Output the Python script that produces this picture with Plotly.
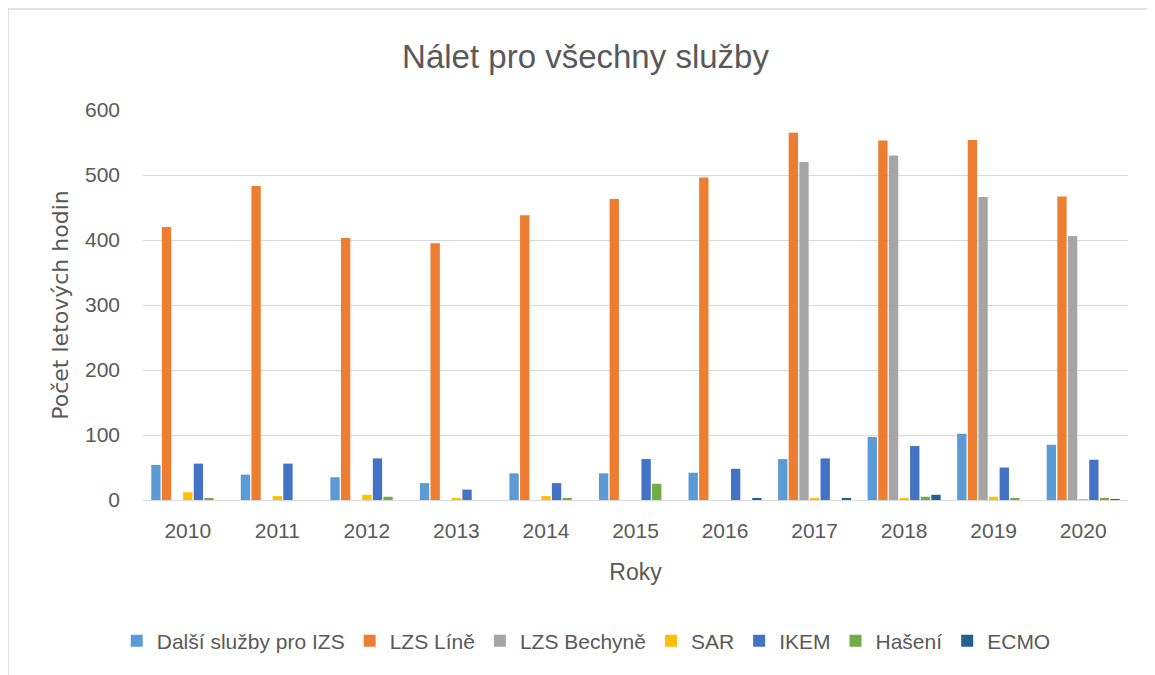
import plotly.graph_objects as go

years = ["2010", "2011", "2012", "2013", "2014", "2015", "2016", "2017", "2018", "2019", "2020"]
dalsi = [54, 39, 35, 26, 41, 41, 42, 63, 97, 102, 85]
lzs_line = [420, 483, 403, 395, 438, 463, 496, 565, 553, 554, 467]
lzs_bechyne = [0, 0, 0, 0, 0, 0, 0, 520, 530, 466, 406]
sar = [12, 6, 8, 3, 6, 0, 0, 2, 2, 5, 1]
ikem = [56, 56, 64, 16, 26, 63, 48, 64, 83, 50, 62]
haseni = [3, 0, 5, 0, 2, 25, 0, 0, 5, 3, 3]
ecmo = [0, 0, 0, 0, 0, 0, 2, 2, 8, 0, 1]

series = [
    ("Další služby pro IZS", dalsi, "#5B9BD5"),
    ("LZS Líně", lzs_line, "#ED7D31"),
    ("LZS Bechyně", lzs_bechyne, "#A5A5A5"),
    ("SAR", sar, "#FFC000"),
    ("IKEM", ikem, "#4472C4"),
    ("Hašení", haseni, "#70AD47"),
    ("ECMO", ecmo, "#255E91"),
]

font_fam = "Liberation Sans, Arial"
gray = "#595959"

fig = go.Figure()
for name, vals, col in series:
    fig.add_trace(go.Bar(x=years, y=vals, name=name, marker=dict(color=col, line=dict(width=0))))

fig.update_layout(
    width=1155, height=675,
    barmode="group", bargap=0.17, bargroupgap=0.12,
    paper_bgcolor="white", plot_bgcolor="white",
    margin=dict(l=135, r=35, t=102, b=183),
    font=dict(family=font_fam, color=gray, size=21),
    title=dict(text="Nálet pro všechny služby", x=0.5, xanchor="center", y=0.928, yanchor="middle",
               font=dict(size=33, color=gray, family=font_fam)),
    xaxis=dict(title=dict(text="Roky", font=dict(size=23), standoff=22),
               tickfont=dict(size=21), showline=True, linecolor="#D9D9D9", linewidth=1,
               ticks="", ticklabelstandoff=12),
    yaxis=dict(title=dict(text="Počet letových hodin", font=dict(size=22, family="DejaVu Sans"), standoff=10),
               range=[0, 600], dtick=100, tickfont=dict(size=21),
               gridcolor="#D9D9D9", gridwidth=1, zeroline=False, showline=False,
               ticks="", ticklabelstandoff=22),
    legend=dict(orientation="h", x=0.45, xanchor="center", y=-0.362, yanchor="middle",
                font=dict(size=21), itemwidth=30, traceorder="normal"),
    showlegend=True,
)
fig.add_shape(type="rect", xref="paper", yref="paper", x0=-0.137, x1=1.2, y0=-0.6, y1=1.259,
              line=dict(color="#D9D9D9", width=1.5), fillcolor="rgba(0,0,0,0)", layer="below")

fig.write_html("out.html")
